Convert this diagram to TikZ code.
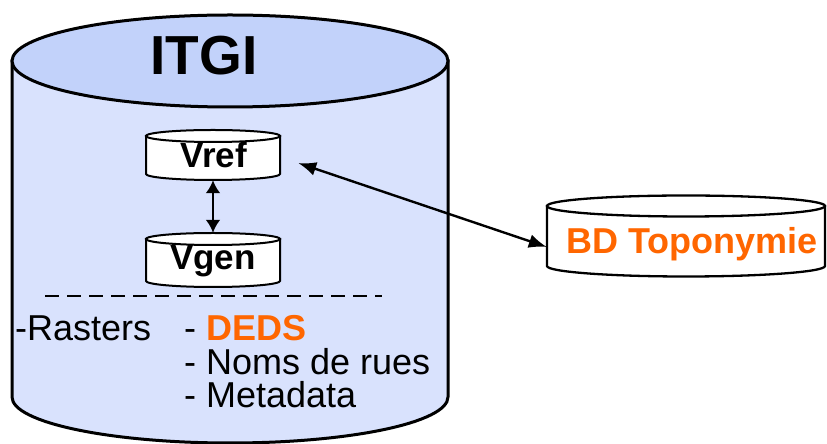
\documentclass[tikz,border=0pt]{standalone}
\usepackage{fontspec}
\setmainfont{Liberation Sans}
\usetikzlibrary{arrows.meta}
\definecolor{topblue}{RGB}{194,210,250}
\definecolor{bodyblue}{RGB}{217,226,253}
\definecolor{orng}{RGB}{255,102,0}
\newcommand\cyldraw[8]{%
  \pgfmathsetmacro\cx{(#1+#2)/2}\pgfmathsetmacro\rx{(#2-#1)/2}%
  \draw[line width=#8,fill=#7] (#1,#3) -- (#1,#4)
     arc[start angle=180,end angle=360,x radius=\rx pt,y radius=#5pt] -- (#2,#3) -- cycle;
  \draw[line width=#8,fill=#6] (\cx,#3) ellipse[x radius=\rx pt,y radius=#5pt];
}
\tikzset{
  txt/.style={inner sep=0pt,anchor=base,font=\bfseries},
  lst/.style={inner sep=0pt,anchor=base west,font=\fontsize{36}{40}\selectfont},
  area/.style={inner sep=0pt,draw=none},
  arr/.style={line width=2.6pt,{Latex[length=13pt,width=15pt]}-{Latex[length=13pt,width=15pt]}},
  longarr/.style={line width=2.4pt,{Latex[length=18pt,width=14pt]}-{Latex[length=18pt,width=14pt]}},
}
\begin{document}
\begin{tikzpicture}[x=1pt,y=1pt]
\useasboundingbox (0,0) rectangle (827,444);
% big cylinder
\cyldraw{12}{448}{383}{47}{46}{topblue}{bodyblue}{3pt}
% small cylinders
\cyldraw{146}{280}{308}{270}{6}{white}{white}{2pt}
\cyldraw{146}{280}{205}{163}{6}{white}{white}{2pt}
\cyldraw{547}{825}{238}{178}{10.5}{white}{white}{2.3pt}
% named areas
\node[area,minimum width=436pt,minimum height=429pt] (itgicyl) at (230,215.5) {};
\node[area,minimum width=134pt,minimum height=50pt] (vref) at (213,289) {};
\node[area,minimum width=134pt,minimum height=54pt] (vgen) at (213,184) {};
\node[area,minimum width=278pt,minimum height=82pt] (bd) at (686,208) {};
% texts
\node[txt,font=\bfseries\fontsize{55}{60}\selectfont] (itgi) at (204,369) {ITGI};
\node[txt,font=\bfseries\fontsize{35}{38}\selectfont] (vreft) at (214,276) {Vref};
\node[txt,font=\bfseries\fontsize{35}{38}\selectfont] (vgent) at (213,174) {Vgen};
\node[txt,font=\bfseries\fontsize{36}{38}\selectfont,text=orng] (bdt) at (692,190) {BD Toponymie};
\node[lst] (rast) at (15,103) {-Rasters};
\node[lst] (deds) at (184,103) {- \textcolor{orng}{\bfseries DEDS}};
\node[lst] (noms) at (184,69) {- Noms de rues};
\node[lst] (meta) at (184,36) {- Metadata};
% dashed separator
\coordinate (dl) at (45,148);
\coordinate (dr) at (382,148);
\draw[line width=2pt,dash pattern=on 14pt off 8pt] (dl) -- (dr);
% arrows
\draw[arr] (vref.south) -- (vgen.north);
\draw[longarr] ([shift={(18pt,-8pt)}]vref.east) -- ([yshift=-11pt]bd.west);
\end{tikzpicture}
\end{document}
